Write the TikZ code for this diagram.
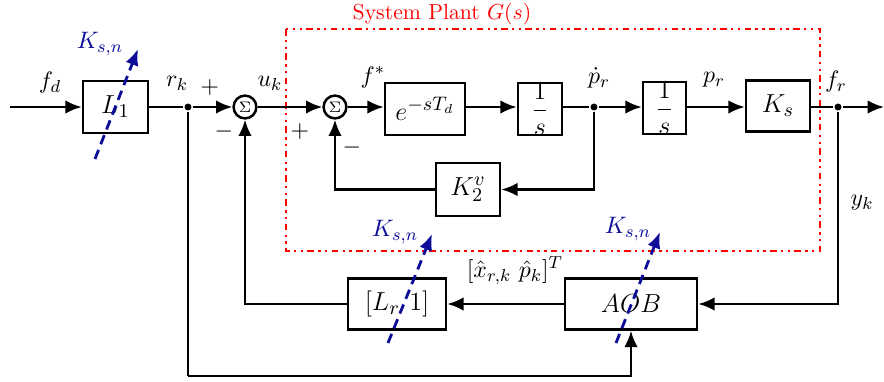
\documentclass[tikz,border=0pt]{standalone}
\usetikzlibrary{arrows.meta}
\definecolor{knavy}{rgb}{0.05,0.05,0.6}
\begin{document}
\begin{tikzpicture}[x=0.46pt,y=-0.46pt,
  line width=1.15pt,
  blk/.style={draw,line width=1.15pt,inner sep=0pt,font=\fontsize{13}{15}\selectfont},
  sumc/.style={draw,circle,line width=1.15pt,minimum size=10.5pt,inner sep=0pt,font=\scriptsize},
  dotc/.style={circle,fill,inner sep=0pt,minimum size=3.2pt},
  arr/.style={-{Latex[length=7.5pt,width=6.2pt]}},
  tune/.style={knavy,dash pattern=on 4.5pt off 2.8pt,line width=1.3pt,-{Latex[length=7.5pt,width=6.2pt]}},
  tlab/.style={knavy,font=\fontsize{11}{13}\selectfont},
  lab/.style={font=\fontsize{11}{13}\selectfont}]
\useasboundingbox (0,0) rectangle (884,381);
% plant border
\draw[red,line width=1.1pt,dash dot dot] (286,29) rectangle (820,251);
\node[red] (title) at (442,14) {System Plant $G(s)$};
% blocks
\node[blk,minimum width=65*0.46pt,minimum height=52*0.46pt] (L1) at (115.5,107) {$L_1$};
\node[sumc] (s1) at (245,107) {$\Sigma$};
\node[sumc] (s2) at (335,107) {$\Sigma$};
\node[blk,minimum width=80*0.46pt,minimum height=52*0.46pt] (E) at (425,109) {$e^{-sT_d}$};
\node[blk,minimum width=44*0.46pt,minimum height=52*0.46pt] (I1) at (540,109) {$\displaystyle\frac{1}{s}$};
\node[blk,minimum width=43*0.46pt,minimum height=52*0.46pt] (I2) at (664.5,108) {$\displaystyle\frac{1}{s}$};
\node[blk,minimum width=64*0.46pt,minimum height=51*0.46pt] (Ks) at (778,106) {$K_s$};
\node[blk,minimum width=64*0.46pt,minimum height=53*0.46pt] (K2) at (468,189.5) {$K_2^v$};
\node[blk,minimum width=98*0.46pt,minimum height=51*0.46pt] (Lr) at (397,304) {$[L_r\ 1]$};
\node[blk,minimum width=132*0.46pt,minimum height=51*0.46pt] (AOB) at (631,304) {$AOB$};
\node[dotc] (d1) at (188,107) {};
\node[dotc] (d2) at (594,107) {};
\node[dotc] (d3) at (838,107) {};
\coordinate (in) at (10,107);
\coordinate (out) at (884,107);
\coordinate (bl) at (188,376);
% forward path
\draw[arr] (in) -- (L1.west);
\draw (L1.east) -- (d1);
\draw[arr] (d1) -- (s1.west);
\draw[arr] (s1.east) -- (s2.west);
\draw[arr] (s2.east) -- (E.west |- s2.east);
\draw[arr] (E.east |- s2.east) -- (I1.west |- s2.east);
\draw (I1.east |- s2.east) -- (d2);
\draw[arr] (d2) -- (I2.west |- d2);
\draw[arr] (I2.east |- d2) -- (Ks.west |- d2);
\draw (Ks.east |- d2) -- (d3);
\draw[arr] (d3) -- (out);
% inner feedback
\draw[arr] (d2) |- (K2.east);
\draw[arr] (K2.west) -| (s2.south);
% outer feedback
\draw[arr] (d3) |- (AOB.east);
\draw[arr] (AOB.west) -- (Lr.east);
\draw[arr] (Lr.west) -| (s1.south);
\draw (d1) -- (bl);
\draw[arr] (bl) -| (AOB.south);
% labels
\node[lab] (lfd) at (50,83) {$f_d$};
\node[lab] (lrk) at (177,83) {$r_k$};
\node[lab] (lp1) at (210,88) {$+$};
\node[lab] (lm1) at (224,132) {$-$};
\node[lab] (luk) at (270,83) {$u_k$};
\node[lab] (lp2) at (300,132) {$+$};
\node[lab] (lm2) at (352,148) {$-$};
\node[lab] (lfs) at (373,77) {$f^*$};
\node[lab] (ldp) at (599,78) {$\dot{p}_r$};
\node[lab] (lpr) at (714,80) {$p_r$};
\node[lab] (lfr) at (836,82) {$f_r$};
\node[lab] (lyk) at (862,203) {$y_k$};
\node[lab] (lxh) at (515,271) {$[\hat{x}_{r,k}\ \hat{p}_k]^T$};
% tuning arrows
\coordinate (t1a) at (95,159); \coordinate (t1b) at (138,49);
\coordinate (t2a) at (388,343); \coordinate (t2b) at (432,234);
\coordinate (t3a) at (616,343); \coordinate (t3b) at (660,232);
\draw[tune] (t1a) -- (t1b);
\draw[tune] (t2a) -- (t2b);
\draw[tune] (t3a) -- (t3b);
\node[tlab] (k1) at (100,44) {$K_{s,n}$};
\node[tlab] (k2) at (395,232) {$K_{s,n}$};
\node[tlab] (k3) at (628,229) {$K_{s,n}$};
\end{tikzpicture}
\end{document}
